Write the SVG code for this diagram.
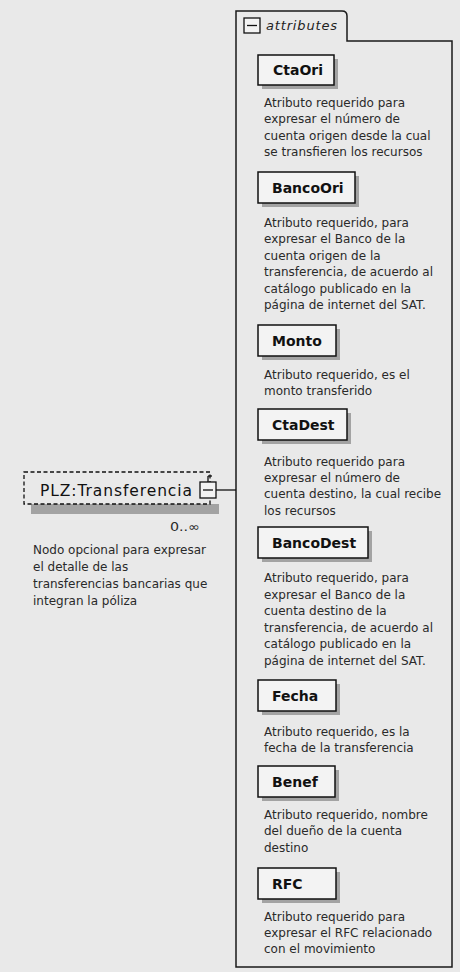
<svg xmlns="http://www.w3.org/2000/svg" width="460" height="972" viewBox="0 0 460 972">
<defs>
<style>
.bg{fill:#e9e9e9}
.frame{fill:#e9e9e9;stroke:#1a1a1a;stroke-width:1.5}
.sh{fill:#a3a3a3}
.box{fill:#f3f3f3;stroke:#111;stroke-width:1.5}
.name{font-family:"DejaVu Sans",sans-serif;font-weight:bold;font-size:14px;fill:#111}
.desc{font-family:"DejaVu Sans",sans-serif;font-size:12px;fill:#2a2a2a}
.tab{font-family:"DejaVu Sans",sans-serif;font-style:italic;font-size:13px;fill:#222}
.el{font-family:"DejaVu Sans",sans-serif;font-size:15.5px;fill:#111}
.icon{fill:#f3f3f3;stroke:#111;stroke-width:1.3}
.ln{stroke:#111;stroke-width:1.3;fill:none}
</style>
</defs>
<rect class="bg" x="0" y="0" width="460" height="972"/>

<g id="attributes">
<path class="frame" d="M236,41 V11 H342 Q347,11 347,16 V41 H452 V967 H236 Z"/>
<rect class="icon" x="244" y="18" width="16" height="15"/>
<line class="ln" x1="247" y1="25.5" x2="257" y2="25.5"/>
<text class="tab" x="266" y="30" textLength="71" lengthAdjust="spacing">attributes</text>
</g>

<g id="CtaOri">
<rect class="sh" x="262" y="59" width="76" height="30"/>
<rect class="box" x="258" y="55" width="76" height="30"/>
<text class="name" x="273" y="75">CtaOri</text>
<text class="desc" x="264" y="107">Atributo requerido para</text>
<text class="desc" x="264" y="123.4">expresar el número de</text>
<text class="desc" x="264" y="139.8">cuenta origen desde la cual</text>
<text class="desc" x="264" y="156.2">se transfieren los recursos</text>
</g>

<g id="BancoOri">
<rect class="sh" x="262" y="176" width="97" height="31"/>
<rect class="box" x="258" y="172" width="97" height="31"/>
<text class="name" x="272" y="193">BancoOri</text>
<text class="desc" x="264" y="227">Atributo requerido, para</text>
<text class="desc" x="264" y="243.4">expresar el Banco de la</text>
<text class="desc" x="264" y="259.8">cuenta origen de la</text>
<text class="desc" x="264" y="276.2">transferencia, de acuerdo al</text>
<text class="desc" x="264" y="292.6">catálogo publicado en la</text>
<text class="desc" x="264" y="309">página de internet del SAT.</text>
</g>

<g id="Monto">
<rect class="sh" x="262" y="329" width="78" height="31"/>
<rect class="box" x="258" y="325" width="78" height="31"/>
<text class="name" x="272" y="346">Monto</text>
<text class="desc" x="264" y="379">Atributo requerido, es el</text>
<text class="desc" x="264" y="395.4">monto transferido</text>
</g>

<g id="CtaDest">
<rect class="sh" x="262" y="413" width="89" height="31"/>
<rect class="box" x="258" y="409" width="89" height="31"/>
<text class="name" x="272" y="430">CtaDest</text>
<text class="desc" x="264" y="466">Atributo requerido para</text>
<text class="desc" x="264" y="482.2">expresar el número de</text>
<text class="desc" x="264" y="498.4">cuenta destino, la cual recibe</text>
<text class="desc" x="264" y="514.6">los recursos</text>
</g>

<g id="BancoDest">
<rect class="sh" x="262" y="531" width="110" height="31"/>
<rect class="box" x="258" y="527" width="110" height="31"/>
<text class="name" x="272" y="548">BancoDest</text>
<text class="desc" x="264" y="582">Atributo requerido, para</text>
<text class="desc" x="264" y="598.6">expresar el Banco de la</text>
<text class="desc" x="264" y="615.2">cuenta destino de la</text>
<text class="desc" x="264" y="631.8">transferencia, de acuerdo al</text>
<text class="desc" x="264" y="648.4">catálogo publicado en la</text>
<text class="desc" x="264" y="665">página de internet del SAT.</text>
</g>

<g id="Fecha">
<rect class="sh" x="262" y="684" width="78" height="31"/>
<rect class="box" x="258" y="680" width="78" height="31"/>
<text class="name" x="272" y="701">Fecha</text>
<text class="desc" x="264" y="736">Atributo requerido, es la</text>
<text class="desc" x="264" y="752.4">fecha de la transferencia</text>
</g>

<g id="Benef">
<rect class="sh" x="262" y="770" width="77" height="31"/>
<rect class="box" x="258" y="766" width="77" height="31"/>
<text class="name" x="272" y="787">Benef</text>
<text class="desc" x="264" y="819">Atributo requerido, nombre</text>
<text class="desc" x="264" y="835.4">del dueño de la cuenta</text>
<text class="desc" x="264" y="851.8">destino</text>
</g>

<g id="RFC">
<rect class="sh" x="262" y="872" width="78" height="31"/>
<rect class="box" x="258" y="868" width="78" height="31"/>
<text class="name" x="272" y="889">RFC</text>
<text class="desc" x="264" y="921">Atributo requerido para</text>
<text class="desc" x="264" y="937.2">expresar el RFC relacionado</text>
<text class="desc" x="264" y="953.4">con el movimiento</text>
</g>

<g id="Transferencia">
<rect class="sh" x="31" y="504" width="188" height="10"/>
<rect x="24" y="472" width="186" height="32" fill="#e9e9e9" stroke="#111" stroke-width="1.3" stroke-dasharray="4,2.5"/>
<text class="el" x="40" y="496" textLength="152" lengthAdjust="spacing">PLZ:Transferencia</text>
<line class="ln" x1="208" y1="482" x2="208" y2="476"/>
<line class="ln" x1="208" y1="476" x2="212" y2="476"/>
<rect class="icon" x="200" y="482" width="16" height="16"/>
<line class="ln" x1="203" y1="490" x2="213" y2="490"/>
<text class="desc" x="170" y="531" textLength="30" lengthAdjust="spacingAndGlyphs">0..∞</text>
<text class="desc" x="33" y="554">Nodo opcional para expresar</text>
<text class="desc" x="33" y="571">el detalle de las</text>
<text class="desc" x="33" y="588">transferencias bancarias que</text>
<text class="desc" x="33" y="605">integran la póliza</text>
</g>

<g id="connectors">
<line class="ln" x1="216" y1="490" x2="236" y2="490"/>
</g>
</svg>
